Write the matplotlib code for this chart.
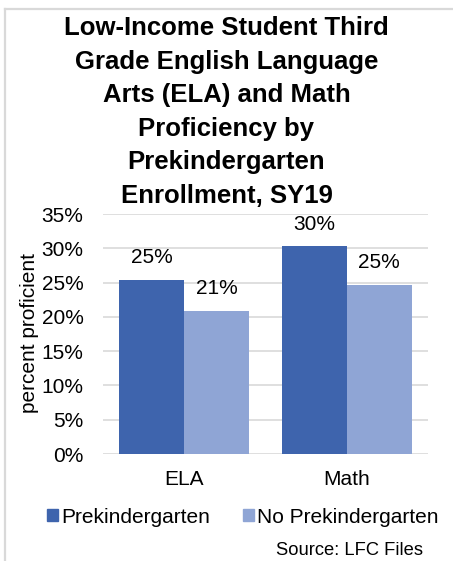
import matplotlib
matplotlib.use("Agg")
import matplotlib.pyplot as plt
from matplotlib.lines import Line2D
from matplotlib.patches import Patch
import numpy as np

plt.rcParams["font.family"] = ["Liberation Sans", "DejaVu Sans"]

subjects = ["ELA", "Math"]
series_names = ["Prekindergarten", "No Prekindergarten"]
prek = [25.4, 30.3]
no_prek = [20.9, 24.7]
y_ticks = [0, 5, 10, 15, 20, 25, 30, 35]

title = ("Low-Income Student Third\nGrade English Language\nArts (ELA) and Math\n"
         "Proficiency by\nPrekindergarten\nEnrollment, SY19")
colors = ["#3E64AD", "#8FA5D5"]

fig = plt.figure(figsize=(4.53, 5.61), dpi=100)
ax = fig.add_axes([0.2274, 0.1907, 0.7174, 0.4278])

x = np.arange(len(subjects))
w = 0.4
for offset, vals, color, name in [(-w / 2, prek, colors[0], series_names[0]),
                                  (w / 2, no_prek, colors[1], series_names[1])]:
    bars = ax.bar(x + offset, vals, width=w, color=color, label=name, zorder=2)
    for b, v in zip(bars, vals):
        ax.annotate(f"{v:.0f}%", (b.get_x() + b.get_width() / 2, v),
                    xytext=(0, 9), textcoords="offset points",
                    ha="center", va="bottom", fontsize=15)

ax.set_xlim(-0.5, 1.5)
ax.set_ylim(0, 35)
ax.set_yticks(y_ticks)
ax.set_yticklabels([f"{t}%" for t in y_ticks])
ax.set_xticks(x)
ax.set_xticklabels(subjects)
ax.tick_params(axis="y", length=0, pad=14, labelsize=15)
ax.tick_params(axis="x", length=0, pad=11.5, labelsize=15)
ax.grid(axis="y", color="#D9D9D9", linewidth=1.2, zorder=0)
for s in ax.spines.values():
    s.set_visible(False)
ax.set_ylabel("percent proficient", fontsize=15)
ax.yaxis.set_label_coords(-0.198, 0.504)

fig.text(0.5, 0.8, title, ha="center", va="center", fontsize=18.5,
         fontweight="bold", linespacing=1.5)

handles = [Patch(color=c) for c in colors]
fig.legend(handles, series_names, loc="center", bbox_to_anchor=(0.536, 0.0784),
           ncol=2, frameon=False, fontsize=15, handlelength=0.53, handleheight=0.53,
           handletextpad=0.15, columnspacing=1.58)

fig.text(0.934, 0.0196, "Source: LFC Files", ha="right", va="center", fontsize=13.2)

# chart frame (left and top edges)
fig.add_artist(Line2D([0.012, 0.012], [0, 0.984], color="#D9D9D9", linewidth=1.6))
fig.add_artist(Line2D([0.012, 1.0], [0.984, 0.984], color="#D9D9D9", linewidth=1.6))

fig.savefig("out.png", dpi=100)
